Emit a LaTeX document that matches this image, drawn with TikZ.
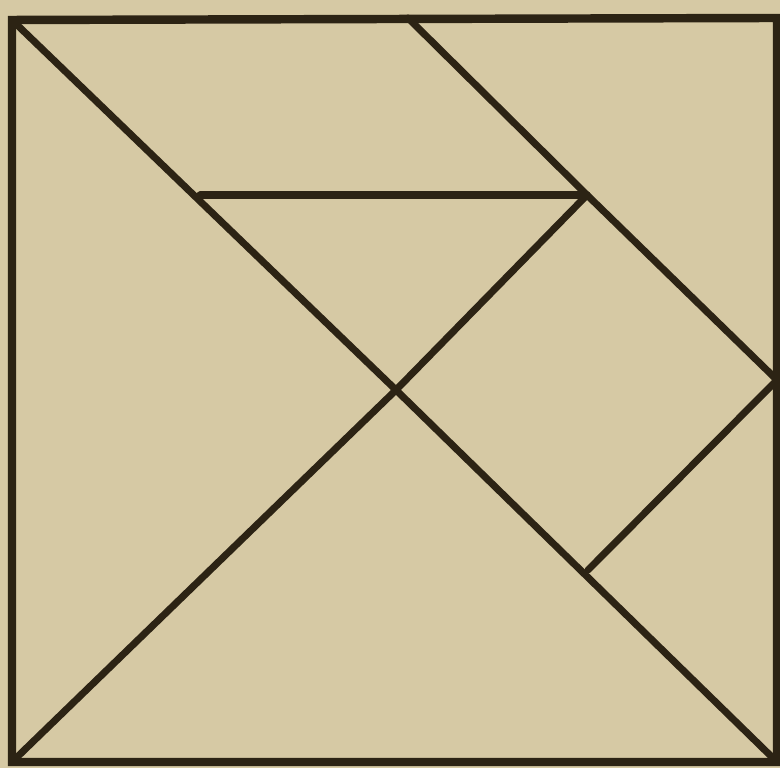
\documentclass[tikz,border=0pt]{standalone}
\usepackage{tikz}

\definecolor{paper}{RGB}{214,201,164}
\definecolor{ink}{RGB}{44,35,20}

\begin{document}
\begin{tikzpicture}[
            x=0.01cm, y=-0.01cm,
            edge/.style={draw=ink, line width=2pt, line cap=round, line join=round},
            frame/.style={draw=ink, line width=2.4pt, line join=miter}
        ]
            \fill[paper] (0,0) rectangle (780,768);
            \useasboundingbox (0,0) rectangle (780,768);
            % corners and joints of the pieces
            \coordinate (tl) at (12,20);
            \coordinate (tr) at (777,18);
            \coordinate (br) at (777,762);
            \coordinate (bl) at (12,762);
            \coordinate (c) at (396,390);
            \coordinate (j) at (587,195);
            \coordinate (h) at (200,195);
            \coordinate (t) at (408,18);
            \coordinate (r) at (777,380);
            \coordinate (d) at (588,570);
            \draw[frame] (tl) -- (tr) -- (br) -- (bl) -- cycle;
            \draw[edge] (tl) -- (c) -- (br);
            \draw[edge] (bl) -- (c) -- (j);
            \draw[edge] (h) -- (j);
            \draw[edge] (t) -- (j) -- (r);
            \draw[edge] (r) -- (d);
        \end{tikzpicture}
\end{document}
